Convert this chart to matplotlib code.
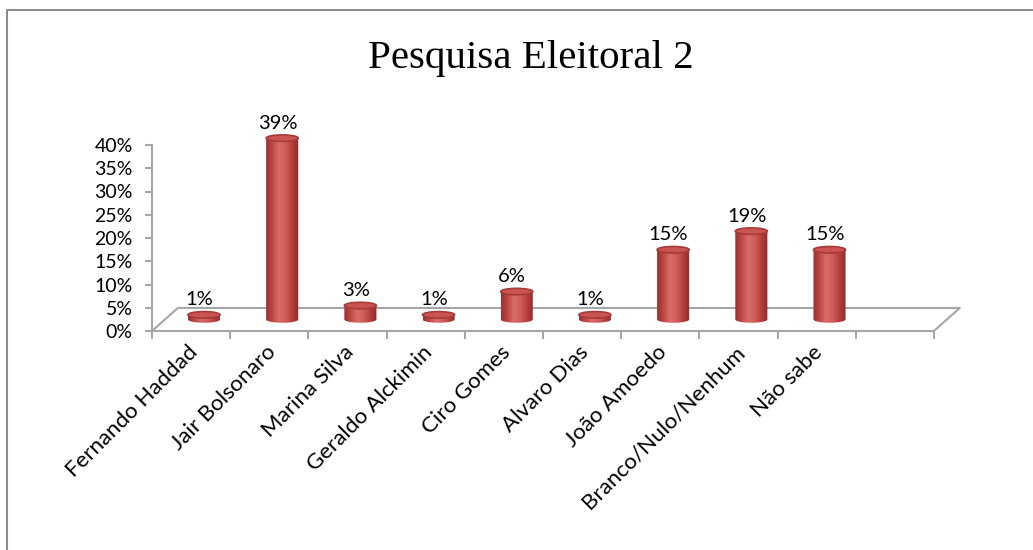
import numpy as np
import matplotlib.pyplot as plt
from matplotlib.patches import Polygon, Ellipse
from matplotlib.colors import LinearSegmentedColormap
from matplotlib.lines import Line2D

candidatos = ['Fernando Haddad', 'Jair Bolsonaro', 'Marina Silva', 'Geraldo Alckimin',
              'Ciro Gomes', 'Alvaro Dias', 'João Amoedo', 'Branco/Nulo/Nenhum', 'Não sabe']
valores = [1, 39, 3, 1, 6, 1, 15, 19, 15]
yticks = [0, 5, 10, 15, 20, 25, 30, 35, 40]
titulo = 'Pesquisa Eleitoral 2'

# fake 3d: depth offset of the floor (category units, percent units)
dx, dy = 0.33, 4.95
bw = 0.41      # cylinder width
eh = 1.4       # ellipse height
ncat = 10      # excel leaves one empty slot at the end

cyl = LinearSegmentedColormap.from_list('cyl', ['#9A302D', '#BF4A46', '#D86D69', '#CF5C58',
                                                '#B53F3C', '#93292A'])
fonte = 'Lato'

fig = plt.figure(figsize=(10.33, 5.5), dpi=100)
ax = fig.add_axes([152/1033, 1-331/550, 821/1033, 48*4.65/550])

# floor
ax.plot([0, dx, ncat+dx, ncat], [0, dy, dy, 0], color='#A6A6A6', lw=1.5, zorder=1)

grad = np.linspace(0, 1, 64).reshape(1, -1)
for i, v in enumerate(valores):
    xc = i + 0.5 + dx/2
    base = dy/2
    top = base + v
    t = np.linspace(np.pi, 2*np.pi, 40)
    pts = [(xc - bw/2, top)]
    pts += list(zip(xc + bw/2*np.cos(t), base + eh/2*np.sin(t)))
    pts += [(xc + bw/2, top)]
    body = Polygon(pts, closed=True, facecolor='none', edgecolor='none', zorder=3)
    ax.add_patch(body)
    im = ax.imshow(grad, cmap=cyl, aspect='auto', zorder=3, interpolation='bilinear',
                   extent=[xc - bw/2, xc + bw/2, base - eh/2, top])
    im.set_clip_path(body)
    ax.add_patch(Ellipse((xc, top), bw, eh, facecolor='#C95450', edgecolor='#A53C39',
                         lw=1.2, zorder=4))
    ax.text(xc - 0.06, top + 1.4, f'{v}%', ha='center', va='bottom',
            fontsize=14.5, family=fonte, zorder=5)

ax.set_xlim(0, 10.5)
ax.set_ylim(0, 48)
for s in ['top', 'right']:
    ax.spines[s].set_visible(False)
ax.spines['left'].set_bounds(0, 40)
ax.spines['bottom'].set_bounds(0, ncat)
for s in ['left', 'bottom']:
    ax.spines[s].set_color('#A6A6A6')
    ax.spines[s].set_linewidth(1.5)

ax.set_yticks(yticks)
ax.set_yticklabels([f'{y}%' for y in yticks], family=fonte, fontsize=14)
ax.tick_params(axis='y', color='#A6A6A6', length=5, width=1.5, pad=9)

ax.set_xticks(np.arange(ncat + 1))
ax.set_xticklabels([])
ax.tick_params(axis='x', which='major', color='#A6A6A6', length=6, width=1.5)
ax.set_xticks(np.arange(len(candidatos)) + 0.45, minor=True)
ax.set_xticklabels(candidatos, minor=True, rotation=45, ha='right', va='top',
                   rotation_mode='anchor', family=fonte, fontsize=16)
ax.tick_params(axis='x', which='minor', length=0, pad=8)

fig.text(531/1033, 1-68/550, titulo, ha='center', va='baseline', family='Liberation Serif',
         fontsize=29.5)

# chart frame: only top and left edges are visible in the crop
fig.add_artist(Line2D([7/1033, 7/1033, 1], [0, 1-10/550, 1-10/550],
                      color='#8C8C8C', lw=1.5))

fig.savefig('out.png', dpi=100)
